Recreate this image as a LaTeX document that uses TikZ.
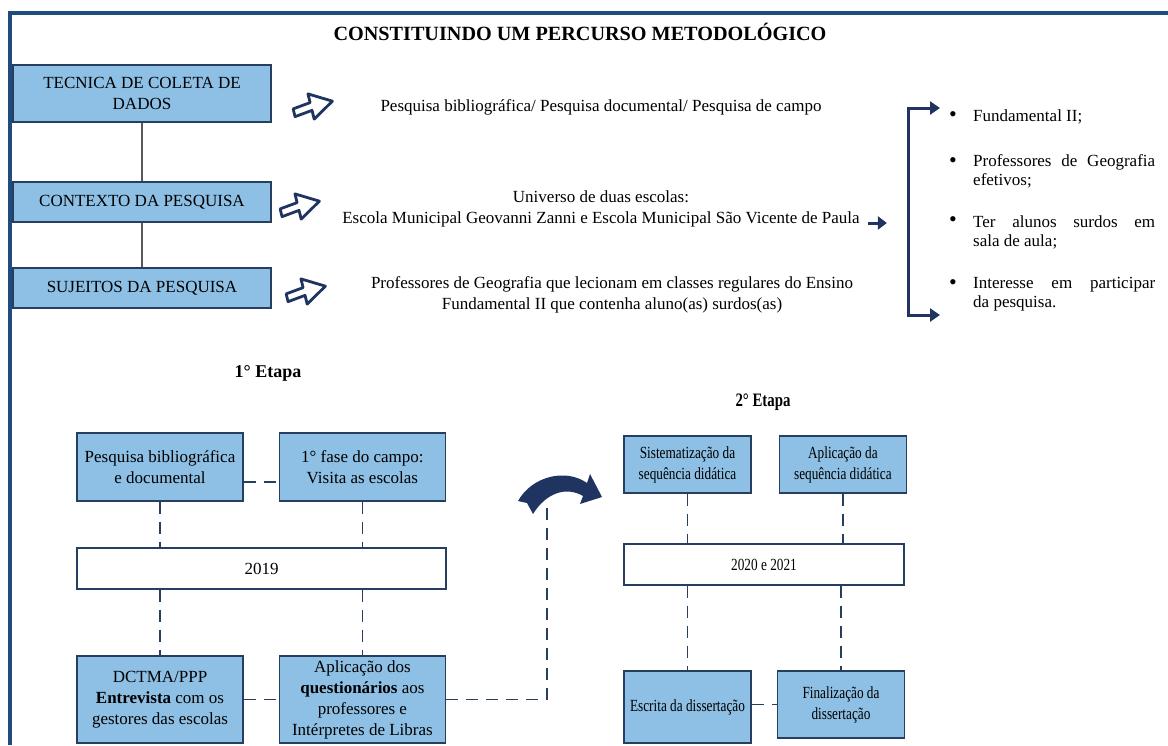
\documentclass[tikz,border=0pt]{standalone}
\usepackage{fontspec}
\setmainfont{Liberation Serif}
\newfontfamily\narrowrm[FakeStretch=0.78]{Liberation Serif}
\usetikzlibrary{arrows.meta, positioning, calc}
\definecolor{navy}{RGB}{31,52,96}
\definecolor{frameblue}{RGB}{31,76,124}
\definecolor{boxblue}{RGB}{141,192,228}
\definecolor{boxline}{RGB}{38,62,96}
\newcommand{\txtsize}{\fontsize{17}{21}\selectfont}

\tikzset{
  topbox/.style={draw=boxline, line width=1.4pt, fill=boxblue, minimum width=258pt,
    minimum height=40pt, align=center, inner sep=2pt, font=\txtsize},
  etapa/.style={draw=boxline, line width=1.4pt, fill=boxblue, minimum width=166pt,
    minimum height=68pt, align=center, inner sep=1pt, font=\txtsize},
  etapadois/.style={etapa, minimum width=127pt, minimum height=57pt, font=\narrowrm\txtsize},
  yearbox/.style={draw=boxline, line width=1.4pt, fill=white, minimum width=369pt,
    minimum height=41pt, font=\txtsize},
  txt/.style={align=center, font=\txtsize, inner sep=2pt},
  item/.style={align=justify, text width=182pt, font=\fontsize{17}{19}\selectfont, inner sep=0pt},
  dot/.style={font=\fontsize{22}{22}\selectfont, inner sep=0pt},
  dashline/.style={boxline, line width=1.8pt, dash pattern=on 12pt off 8pt},
  bracket/.style={navy, line width=3pt, {Triangle[length=10pt,width=13pt]}-{Triangle[length=10pt,width=13pt]}},
  fatarrow/.pic={\draw[navy, line width=2.8pt, fill=white, line join=round]
    (-20,-2) -- (-2,-4) -- (-2,-13) -- (20,0) -- (-2,13) -- (-2,4) -- (-20,6) -- cycle;}
}

\begin{document}
\begin{tikzpicture}[x=1pt,y=-1pt,>=latex]
\useasboundingbox (0,0) rectangle (1168,745);

% Frame
\draw[frameblue, line width=4pt] (10,745) -- (10,13) -- (1168,13);

% Title
\node[font=\fontsize{20.2}{24}\selectfont\bfseries] (title) at (580,32) {CONSTITUINDO UM PERCURSO METODOLÓGICO};

% Left column
\node[topbox, minimum height=57pt] (tec) at (142,93.5) {TECNICA DE COLETA DE\\DADOS};
\node[topbox] (ctx) at (142,202) {CONTEXTO DA PESQUISA};
\node[topbox] (suj) at (142,288) {SUJEITOS DA PESQUISA};
\draw[gray!70!black, line width=1.2pt] (tec) -- (ctx) (ctx) -- (suj);

\pic[rotate=14] at (313,106) {fatarrow};
\pic[rotate=14] at (300,206) {fatarrow};
\pic[rotate=14] at (306,291) {fatarrow};

\node[txt] (campo) at (601,107) {Pesquisa bibliográfica/ Pesquisa documental/ Pesquisa de campo};
\node[txt] (univ) at (601,209) {Universo de duas escolas:\\Escola Municipal Geovanni Zanni e Escola Municipal São Vicente de Paula};
\node[txt] (prof) at (612,295) {Professores de Geografia que lecionam em classes regulares do Ensino\\Fundamental II que contenha aluno(as) surdos(as)};

% Criteria
\draw[navy, line width=3pt, -{Triangle[length=9pt,width=13pt]}] ([xshift=6pt,yshift=-14pt]univ.east) -- ++(19,0);
\coordinate (brtop) at (908,108);
\coordinate (brbot) at (908,315);
\draw[bracket] ([xshift=32pt]brtop) -- (brtop) -- (brbot) -- ([xshift=32pt]brbot);

\node[item, anchor=west] (c1) at (973,117) {Fundamental II;};
\node[item, anchor=west] (c2) at (973,171.5) {Professores de Geografia efetivos;};
\node[item, anchor=west] (c3) at (973,232) {Ter alunos surdos em\linebreak sala de aula;};
\node[item, anchor=west] (c4) at (973,294) {Interesse em participar\linebreak da pesquisa.};
\foreach \n/\yy in {1/117, 2/163, 3/222, 4/285}
  \node[dot] (d\n) at (953,\yy) {•};

% 1 Etapa
\node[font=\fontsize{18}{21}\selectfont\bfseries] (etum) at (268,373) {1° Etapa};
\node[etapa] (pb) at (160,467) {Pesquisa bibliográfica\\e documental};
\node[etapa, right=35pt of pb] (fc) {1° fase do campo:\\Visita as escolas};
\node[yearbox] (yum) at (261.5,568.5) {2019};
\node[etapa, minimum height=87pt] (dc) at (160,699.5) {DCTMA/PPP\\\textbf{Entrevista} com os\\gestores das escolas};
\node[etapa, minimum height=87pt, right=35pt of dc] (aq) {Aplicação dos\\\textbf{questionários} aos\\professores e\\Intérpretes de Libras};

\draw[dashline] ([yshift=-15pt]pb.east) -- ([yshift=-15pt]fc.west);
\draw[dashline] (pb.south) -- (pb.south |- yum.north);
\draw[dashline] (fc.south) -- (fc.south |- yum.north);
\draw[dashline] (dc.north |- yum.south) -- (dc.north);
\draw[dashline] (aq.north |- yum.south) -- (aq.north);
\draw[dashline] (dc) -- (aq);
\coordinate (turn) at (547,503);
\draw[dashline] (aq.east) -| (turn);

% Curved arrow
\fill[navy] (518,501) .. controls (532,476) and (566,468) .. (587,483) -- (590,474)
  -- (602,497) -- (580,504) -- (583,496) .. controls (566,486) and (546,493) .. (533,514)
  -- (527,503) -- cycle;

% 2 Etapa
\node[font=\narrowrm\fontsize{19}{22}\selectfont\bfseries] (etdois) at (763,402) {2° Etapa};
\node[etapadois] (sis) at (687.5,464.5) {Sistematização da\\sequência didática};
\node[etapadois, right=27pt of sis] (apl) {Aplicação da\\sequência didática};
\node[yearbox, minimum width=280pt, font=\narrowrm\txtsize] (ydois) at (764,564.5) {2020 e 2021};
\node[etapadois, minimum height=72pt] (esc) at (687.5,707) {Escrita da dissertação};
\node[etapadois, minimum height=67pt] (fin) at (841,704.5) {Finalização da\\dissertação};

\draw[dashline] (sis.south) -- (sis.south |- ydois.north);
\draw[dashline] (apl.south) -- (apl.south |- ydois.north);
\draw[dashline] (esc.north |- ydois.south) -- (esc.north);
\draw[dashline] (fin.north |- ydois.south) -- (fin.north);
\draw[dashline] (fin.west -| esc.east) -- (fin.west);

\end{tikzpicture}
\end{document}
